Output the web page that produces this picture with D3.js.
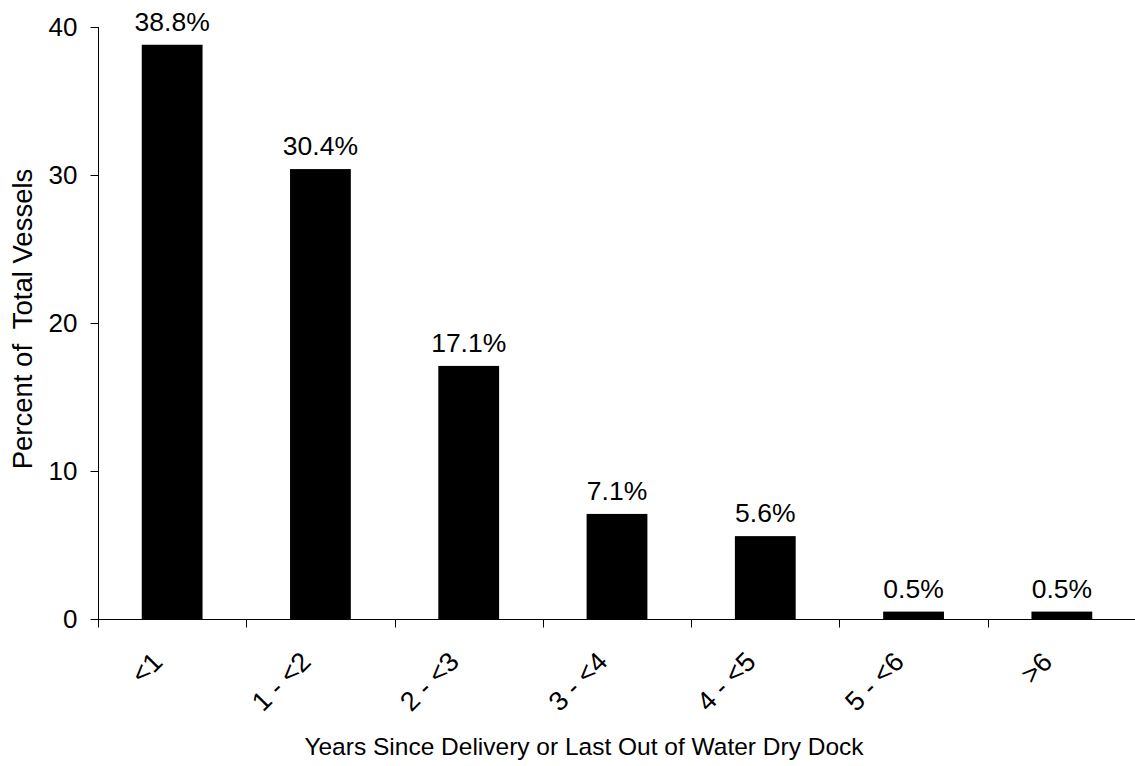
<!DOCTYPE html>
<html>
<head>
<meta charset="utf-8">
<script src="https://cdn.jsdelivr.net/npm/d3@7"></script>
<style>
  body { margin: 0; background: #fff; }
  svg { display: block; font-family: "Liberation Sans", Arial, sans-serif; }
</style>
</head>
<body>
<svg id="chart"></svg>
<script>
// Porcentaje de buques por años desde la entrega o el último dique seco
const categories = ["<1", "1 - <2", "2 - <3", "3 - <4", "4 - <5", "5 - <6", ">6"];
const values = [38.8, 30.4, 17.1, 7.1, 5.6, 0.5, 0.5];
const y_ticks = [0, 10, 20, 30, 40];

const svg_w = 1135;
const svg_h = 766;
const margin = {l:98, r:-1, t:27, b:147};
const viz_w = svg_w - margin.l - margin.r;
const viz_h = svg_h - margin.t - margin.b;

let svg = d3.select("#chart")
  .attr("width", svg_w)
  .attr("height", svg_h)

let x_scale = d3.scaleBand()
  .domain(categories)
  .range([0, viz_w])
  .paddingInner(0.59)
  .paddingOuter(0.295)

let y_scale = d3.scaleLinear()
  .domain([0, 40])
  .range([viz_h, 0])

let g = svg.append("g")
  .attr("transform", `translate(${margin.l},${margin.t})`)

// barras
g.append("g")
  .selectAll("rect")
  .data(values)
  .enter().append("rect")
  .attr("x", (d,i) => x_scale(categories[i]))
  .attr("y", d => y_scale(d))
  .attr("width", x_scale.bandwidth())
  .attr("height", d => viz_h - y_scale(d))
  .attr("fill", "#000")

// etiquetas de valor
g.append("g")
  .selectAll("text")
  .data(values)
  .enter().append("text")
  .attr("x", (d,i) => x_scale(categories[i]) + x_scale.bandwidth()/2)
  .attr("y", d => y_scale(d) - 14)
  .attr("text-anchor", "middle")
  .attr("font-size", 26.5)
  .attr("fill", "#000")
  .text(d => d.toFixed(1) + "%")

// eje y
let y_axis = g.append("g")
  .attr("transform", "translate(0.5,0)")
  .call(d3.axisLeft(y_scale).tickValues(y_ticks).tickSize(8).tickPadding(13))
y_axis.selectAll("text").attr("font-size", 26).attr("fill", "#000").attr("font-family", null)
y_axis.selectAll("line").attr("stroke", "#000")
y_axis.select(".domain").attr("stroke", "#000").attr("d", `M0,0V${viz_h}`)

// eje x: marcas entre categorías
let step = x_scale.step();
let boundaries = d3.range(categories.length + 1).map(i => i * step);
let x_axis = g.append("g")
  .attr("transform", `translate(0,${viz_h + 0.5})`)
x_axis.append("line")
  .attr("x1", 0).attr("x2", viz_w)
  .attr("stroke", "#000")
x_axis.selectAll(".tick")
  .data(boundaries)
  .enter().append("line")
  .attr("x1", d => Math.round(d) + 0.5).attr("x2", d => Math.round(d) + 0.5)
  .attr("y1", 0).attr("y2", 8)
  .attr("stroke", "#000")

// etiquetas de categoría, giradas
x_axis.selectAll(".cat")
  .data(categories)
  .enter().append("text")
  .attr("transform", d => `translate(${x_scale(d) + x_scale.bandwidth()/2 - 8},${44}) rotate(-45)`)
  .attr("text-anchor", "end")
  .attr("font-size", 27)
  .attr("fill", "#000")
  .text(d => d)

// títulos de ejes
svg.append("text")
  .attr("x", 584)
  .attr("y", 755)
  .attr("text-anchor", "middle")
  .attr("font-size", 24.5)
  .attr("fill", "#000")
  .text("Years Since Delivery or Last Out of Water Dry Dock")

svg.append("text")
  .attr("transform", `translate(32,319) rotate(-90)`)
  .attr("text-anchor", "middle")
  .attr("font-size", 27.5)
  .attr("fill", "#000")
  .attr("xml:space", "preserve")
  .style("white-space", "pre")
  .text("Percent of  Total Vessels")
</script>
</body>
</html>
